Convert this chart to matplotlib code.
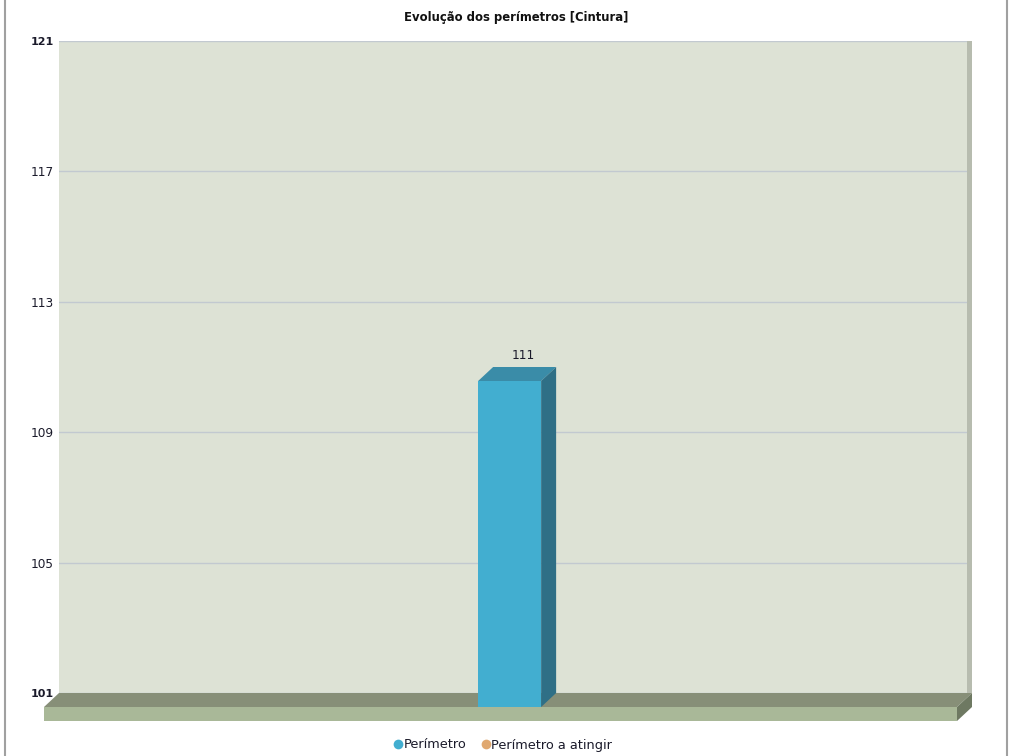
import matplotlib
matplotlib.use('Agg')
import matplotlib.pyplot as plt
import matplotlib.transforms as mtransforms
from matplotlib.patches import Polygon, Rectangle
from matplotlib.lines import Line2D

plt.rcParams.update({
    "font.family": ['DejaVu Sans'],
    "font.size": 8.5,
})

# data
title = 'Evolução dos perímetros [Cintura]'
categories = ['']
perimetro = [111]
y_ticks = [101, 105, 109, 113, 117, 121]
legend_labels = ['Perímetro', 'Perímetro a atingir']
legend_colors = ['#42aed0', '#e0a870']

W, H = 1014, 756
DX, DY = -15, -14      # 3d depth offset (pixels)
FLOOR_H = 14

fig = plt.figure(figsize=(W / 100, H / 100), dpi=100)
ax = fig.add_axes([59 / W, 1 - 693 / H, (972 - 59) / W, (693 - 41) / H])
ax.set_xlim(-0.51, 0.49)
ax.set_ylim(y_ticks[0], y_ticks[-1])
ax.set_facecolor('#dde2d5')
for s in ax.spines.values():
    s.set_visible(False)
ax.set_xticks([])
ax.set_yticks(y_ticks)
ax.tick_params(axis='y', length=0, pad=4, labelsize=8.7, labelcolor='#1a1a2a')
for i, lab in enumerate(ax.get_yticklabels()):
    if i in (0, len(y_ticks) - 1):
        lab.set_fontweight('bold')
        lab.set_fontsize(8)
ax.grid(axis='y', color='#c2c9d0', lw=1)
ax.set_axisbelow(True)

# right wall edge
ax.add_patch(Rectangle((1 - 5 / 913, 0), 5 / 913, 1, transform=ax.transAxes,
                       facecolor='#b7bcaf', edgecolor='none', zorder=1))

ident = mtransforms.IdentityTransform()
xl = ax.get_xlim()
(x0, y0) = ax.transData.transform((xl[0], y_ticks[0]))
(x1, _) = ax.transData.transform((xl[1], y_ticks[0]))

# floor
floor_top = [(x0, y0), (x1, y0), (x1 + DX, y0 + DY), (x0 + DX, y0 + DY)]
floor_front = [(x0 + DX, y0 + DY), (x1 + DX, y0 + DY),
               (x1 + DX, y0 + DY - FLOOR_H), (x0 + DX, y0 + DY - FLOOR_H)]
floor_side = [(x1 + DX, y0 + DY), (x1, y0), (x1, y0 - FLOOR_H),
              (x1 + DX, y0 + DY - FLOOR_H)]
for pts, c in [(floor_top, '#878f78'), (floor_front, '#a9b898'), (floor_side, '#6e7962')]:
    ax.add_patch(Polygon(pts, closed=True, transform=ident, facecolor=c,
                         edgecolor='none', clip_on=False, zorder=3))

# bar
bar_w = 63 / 913
for i, v in enumerate(perimetro):
    (bx0, by) = ax.transData.transform((i - bar_w / 2, v))
    (bx1, _) = ax.transData.transform((i + bar_w / 2, v))
    front = [(bx0 + DX, y0 + DY), (bx1 + DX, y0 + DY), (bx1 + DX, by + DY), (bx0 + DX, by + DY)]
    top = [(bx0 + DX, by + DY), (bx1 + DX, by + DY), (bx1, by), (bx0, by)]
    side = [(bx1 + DX, by + DY), (bx1, by), (bx1, y0), (bx1 + DX, y0 + DY)]
    for pts, c in [(front, '#42aed0'), (top, '#3a8ca8'), (side, '#2f6f86')]:
        ax.add_patch(Polygon(pts, closed=True, transform=ident, facecolor=c,
                             edgecolor='none', clip_on=False, zorder=4))
    ax.annotate(str(v), xy=(i, v), xytext=(-1, 5), textcoords='offset pixels',
                ha='center', va='bottom', fontsize=8.7, color='#1a1a2a', zorder=5)

# title
fig.text(516 / W, 1 - 18 / H, title, ha='center', va='center',
         fontsize=8.4, fontweight='bold', color='#111111')

# legend
handles = [Line2D([], [], marker='o', ls='none', markersize=7, color=c,
                  markeredgecolor='none') for c in legend_colors]
fig.legend(handles, legend_labels, loc='center', bbox_to_anchor=(0.495, 1 - 745 / H),
           ncol=2, frameon=False, handletextpad=-0.1, columnspacing=1.0,
           handlelength=1.0, fontsize=9.3, labelcolor='#1a1a2a')

# page border
for xp in (4.5, 1006.5):
    fig.add_artist(Line2D([xp / W, xp / W], [0, 1], transform=fig.transFigure,
                          color='#a0a0a0', lw=1.5))

fig.savefig('out.png', dpi=100)
